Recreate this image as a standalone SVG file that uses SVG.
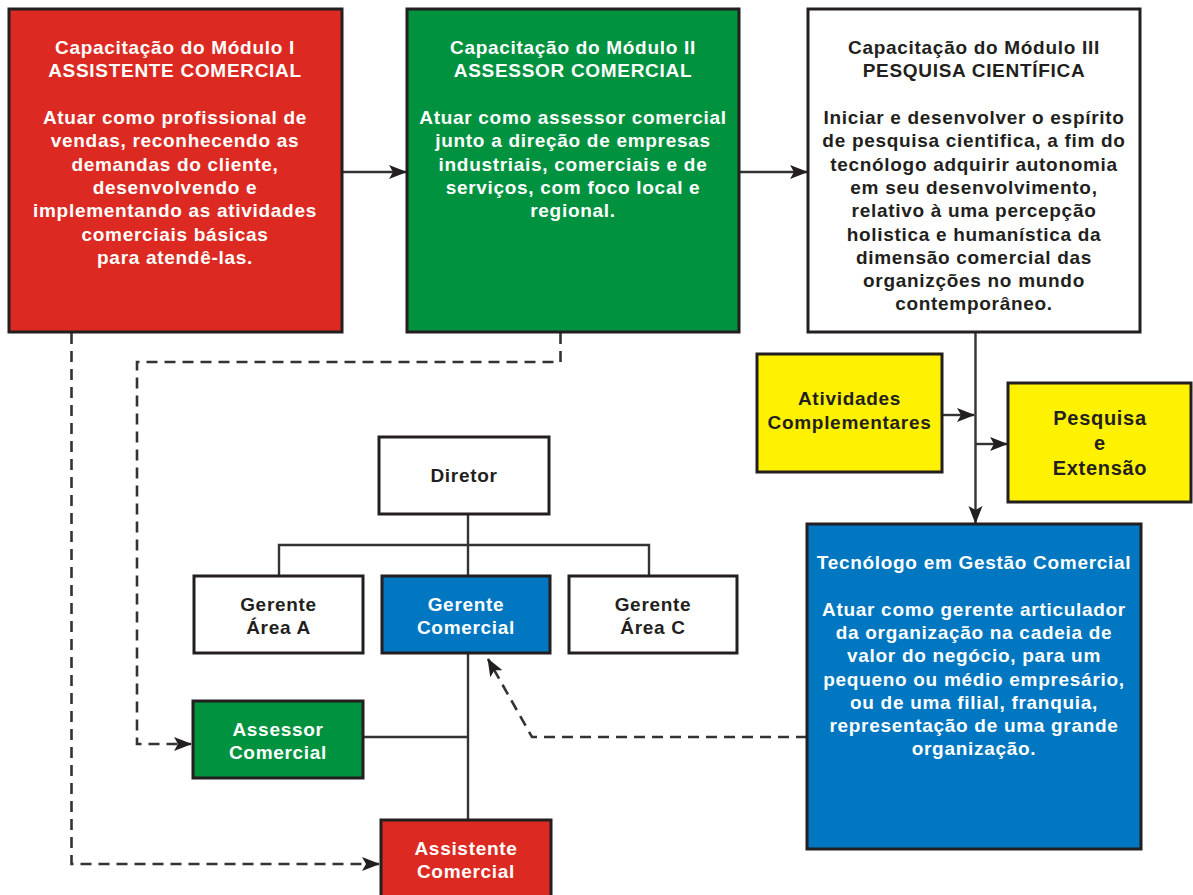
<svg xmlns="http://www.w3.org/2000/svg" width="1193" height="895" viewBox="0 0 1193 895">
<style>
text{font-family:"Liberation Sans",Arial,Helvetica,sans-serif;font-weight:bold;font-size:19px;letter-spacing:0.7px;text-anchor:middle}
.w{fill:#ffffff}
.d{fill:#231f20}
.box{stroke:#231f20;stroke-width:3}
.red{fill:#dc2a22}
.green{fill:#00923f}
.blue{fill:#0077c0}
.yellow{fill:#fff200}
.white{fill:#ffffff}
.ln{fill:none;stroke:#333333;stroke-width:2.4}
.dash{fill:none;stroke:#333333;stroke-width:2.6;stroke-dasharray:11 7}
</style>
<defs>
<marker id="ah" markerUnits="userSpaceOnUse" markerWidth="18" markerHeight="16" refX="17" refY="8" orient="auto">
<path d="M0,1 L18,8 L0,15 L4,8 Z" fill="#231f20"/>
</marker>
</defs>
<rect width="1193" height="895" fill="#ffffff"/>
<g id="connectors">
<line class="ln" x1="342" y1="172" x2="406" y2="172" marker-end="url(#ah)"/>
<line class="ln" x1="739" y1="172" x2="807" y2="172" marker-end="url(#ah)"/>
<line class="ln" x1="975.5" y1="333" x2="975.5" y2="523" marker-end="url(#ah)"/>
<line class="ln" x1="942" y1="415" x2="974" y2="415" marker-end="url(#ah)"/>
<line class="ln" x1="976" y1="444" x2="1007" y2="444" marker-end="url(#ah)"/>
<line class="ln" x1="468" y1="514" x2="468" y2="576"/>
<polyline class="ln" points="279,576 279,545 649,545 649,576"/>
<line class="ln" x1="468" y1="653" x2="468" y2="820"/>
<line class="ln" x1="363" y1="737" x2="468" y2="737"/>
<polyline class="dash" points="71.5,333 71.5,864 379,864" marker-end="url(#ah)"/>
<polyline class="dash" points="560.5,333 560.5,362 137,362 137,744 191,744" marker-end="url(#ah)"/>
<polyline class="dash" points="807,737 532,737 488,659" marker-end="url(#ah)"/>
</g>
<g id="modulo1">
<rect class="box red" x="9" y="9" width="333" height="323"/>
<text class="w"><tspan x="175" y="54">Capacitação do Módulo I</tspan><tspan x="175" y="77.3">ASSISTENTE COMERCIAL</tspan><tspan x="175" y="124">Atuar como profissional de</tspan><tspan x="175" y="147.3">vendas, reconhecendo as</tspan><tspan x="175" y="170.6">demandas do cliente,</tspan><tspan x="175" y="193.9">desenvolvendo e</tspan><tspan x="175" y="217.2">implementando as atividades</tspan><tspan x="175" y="240.5">comerciais básicas</tspan><tspan x="175" y="263.8">para atendê-las.</tspan></text>
</g>
<g id="modulo2">
<rect class="box green" x="407" y="9" width="332" height="323"/>
<text class="w"><tspan x="573" y="54">Capacitação do Módulo II</tspan><tspan x="573" y="77.3">ASSESSOR COMERCIAL</tspan><tspan x="573" y="124">Atuar como assessor comercial</tspan><tspan x="573" y="147.3">junto a direção de empresas</tspan><tspan x="573" y="170.6">industriais, comerciais e de</tspan><tspan x="573" y="193.9">serviços, com foco local e</tspan><tspan x="573" y="217.2">regional.</tspan></text>
</g>
<g id="modulo3">
<rect class="box white" x="808" y="9" width="332" height="323"/>
<text class="d"><tspan x="974" y="54">Capacitação do Módulo III</tspan><tspan x="974" y="77.3">PESQUISA CIENTÍFICA</tspan><tspan x="974" y="124">Iniciar e desenvolver o espírito</tspan><tspan x="974" y="147.3">de pesquisa cientifica, a fim do</tspan><tspan x="974" y="170.6">tecnólogo adquirir autonomia</tspan><tspan x="974" y="193.9">em seu desenvolvimento,</tspan><tspan x="974" y="217.2">relativo à uma percepção</tspan><tspan x="974" y="240.5">holistica e humanística da</tspan><tspan x="974" y="263.8">dimensão comercial das</tspan><tspan x="974" y="287.1">organizções no mundo</tspan><tspan x="974" y="310.4">contemporâneo.</tspan></text>
</g>
<g id="atividades">
<rect class="box yellow" x="757" y="354" width="185" height="118"/>
<text class="d"><tspan x="849.5" y="405">Atividades</tspan><tspan x="849.5" y="429">Complementares</tspan></text>
</g>
<g id="pesquisa">
<rect class="box yellow" x="1008" y="383" width="183" height="119"/>
<text class="d" style="font-size:20px"><tspan x="1100" y="424.5">Pesquisa</tspan><tspan x="1100" y="449.5">e</tspan><tspan x="1100" y="474.5">Extensão</tspan></text>
</g>
<g id="tecnologo">
<rect class="box blue" x="807" y="524" width="334" height="325"/>
<text class="w"><tspan x="974" y="569">Tecnólogo em Gestão Comercial</tspan><tspan x="974" y="615.6">Atuar como gerente articulador</tspan><tspan x="974" y="638.9">da organização na cadeia de</tspan><tspan x="974" y="662.2">valor do negócio, para um</tspan><tspan x="974" y="685.5">pequeno ou médio empresário,</tspan><tspan x="974" y="708.8">ou de uma filial, franquia,</tspan><tspan x="974" y="732.1">representação de uma grande</tspan><tspan x="974" y="755.4">organização.</tspan></text>
</g>
<g id="diretor">
<rect class="box white" x="379" y="437" width="170" height="77"/>
<text class="d" x="464" y="482">Diretor</text>
</g>
<g id="gerenteA">
<rect class="box white" x="194" y="576" width="169" height="77"/>
<text class="d"><tspan x="278.5" y="611">Gerente</tspan><tspan x="278.5" y="634">Área A</tspan></text>
</g>
<g id="gerenteComercial">
<rect class="box blue" x="382" y="576" width="168" height="77"/>
<text class="w"><tspan x="466" y="611">Gerente</tspan><tspan x="466" y="634">Comercial</tspan></text>
</g>
<g id="gerenteC">
<rect class="box white" x="569" y="576" width="168" height="77"/>
<text class="d"><tspan x="653" y="611">Gerente</tspan><tspan x="653" y="634">Área C</tspan></text>
</g>
<g id="assessor">
<rect class="box green" x="193" y="701" width="170" height="77"/>
<text class="w"><tspan x="278" y="736">Assessor</tspan><tspan x="278" y="759">Comercial</tspan></text>
</g>
<g id="assistente">
<rect class="box red" x="381" y="820" width="170" height="80"/>
<text class="w"><tspan x="466" y="855">Assistente</tspan><tspan x="466" y="878">Comercial</tspan></text>
</g>
</svg>
